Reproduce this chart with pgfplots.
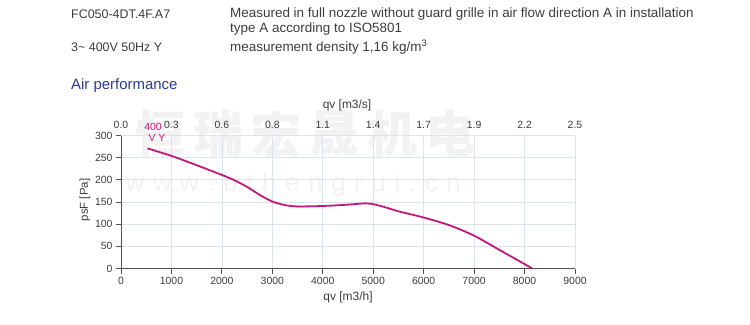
\documentclass[border=0pt]{standalone}
\usepackage{fontspec}
\setmainfont{Liberation Sans}
\newfontfamily\cjk{Noto Sans CJK SC}
\usepackage{pgfplots}
\pgfplotsset{compat=1.18}
\definecolor{txt}{HTML}{3C3C3C}
\definecolor{ttl}{HTML}{2A3A8E}
\definecolor{curve}{HTML}{C4177E}
\definecolor{gridc}{HTML}{DDE3EC}
\definecolor{axc}{HTML}{505050}
\definecolor{wm}{HTML}{F2F2F2}
\begin{document}
\begin{tikzpicture}[x=1bp,y=1bp]
\useasboundingbox (0,0) rectangle (750,324);
% watermark
\foreach \c/\xx in {恒/160,瑞/218,宏/276,晟/334,机/392,电/450}{
  \node[text=wm,font=\cjk\fontsize{50}{50}\selectfont\bfseries] at (\xx,324-134) {\c};
}
\node[text=wm,font=\fontsize{26}{26}\selectfont,anchor=west] at (122,324-185) {w\,\,w\,\,w\,\,.\,\,b\,\,t\,\,h\,\,e\,\,n\,\,g\,\,r\,\,u\,\,i\,\,.\,\,c\,\,n};
% header
\begin{scope}[every node/.style={text=txt,font=\fontsize{12.5}{15}\selectfont,anchor=west,inner sep=0pt}]
\node at (71,324-14) {FC050-4DT.4F.A7};
\node at (71,324-47) {3\textasciitilde{} 400V 50Hz Y};
\end{scope}
\begin{scope}[every node/.style={text=txt,font=\fontsize{13.5}{15}\selectfont,anchor=west,inner sep=0pt}]
\node at (230,324-14) {Measured in full nozzle without guard grille in air flow direction A in installation};
\node at (230,324-29) {type A according to ISO5801};
\node at (230,324-47) {measurement density 1,16 kg/m\textsuperscript{3}};
\end{scope}
\node[text=ttl,font=\fontsize{15}{17}\selectfont,anchor=west,inner sep=0pt] at (71,324-86) {Air performance};
% main axis
\begin{axis}[
  at={(121bp,55.5bp)}, anchor=south west,
  scale only axis, width=454bp, height=133bp,
  xmin=0, xmax=9000, ymin=0, ymax=300,
  xtick={0,1000,...,9000}, ytick={0,50,...,300},
  axis lines=left, axis line style={-,draw=axc,line width=0.9pt},
  tick align=outside, major tick length=5bp,
  tick style={draw=axc,line width=0.8pt},
  grid=major, major grid style={draw=gridc,line width=0.7pt},
  /pgf/number format/assume math mode=true,
  /pgf/number format/1000 sep={},
  ticklabel style={text=txt,font=\fontsize{10.5}{12}\selectfont},
  clip=false,
]
\addplot[curve,line width=1.8pt,smooth,tension=0.45] coordinates {
(525,271) (1000,254) (1500,233) (2000,211) (2250,199) (2500,184) (2750,166)
(3000,151) (3250,143) (3500,140) (4000,141) (4500,144) (4850,147) (5050,144)
(5300,136) (5500,129) (6000,115) (6500,98) (7000,74) (7500,42) (8000,10) (8150,0)
};
\end{axis}
% top axis labels
\begin{axis}[
  at={(121bp,55.5bp)}, anchor=south west,
  scale only axis, width=454bp, height=133bp,
  xmin=0, xmax=9000, ymin=0, ymax=300,
  axis x line*=top, hide y axis,
  axis line style={draw=none},
  major tick length=0pt,
  xtick={0,1000,...,9000},
  xticklabels={0.0,0.3,0.6,0.8,1.1,1.4,1.7,1.9,2.2,2.5},
  xticklabel style={text=txt,font=\fontsize{10.5}{12}\selectfont,yshift=3bp},
]
\end{axis}
% labels
\node[text=txt,font=\fontsize{12}{14}\selectfont] at (348,324-297) {qv [m3/h]};
\node[text=txt,font=\fontsize{12}{14}\selectfont] at (347,324-105) {qv [m3/s]};
\node[text=txt,font=\fontsize{11.5}{13}\selectfont,rotate=90] at (85,324-200) {psF [Pa]};
\node[text=curve,font=\fontsize{10.5}{12}\selectfont] at (153,324-127) {400};
\node[text=curve,font=\fontsize{10.5}{12}\selectfont] at (157,324-138) {V Y};
\end{tikzpicture}
\end{document}
